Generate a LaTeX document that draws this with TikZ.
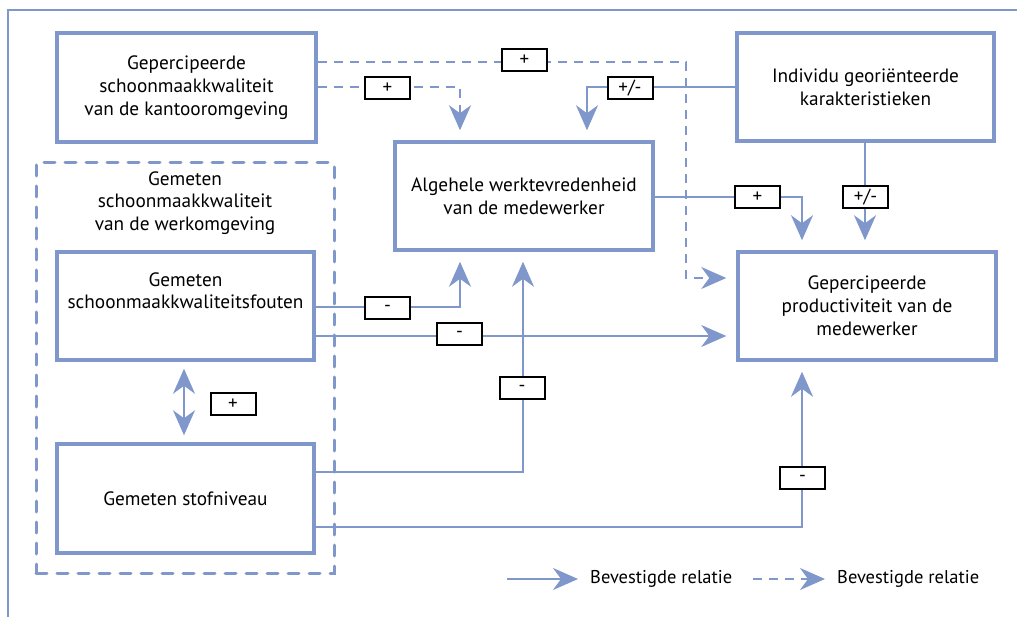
\documentclass[tikz,border=0pt]{standalone}
\usepackage{fontspec}
\setmainfont{PT Sans}
\usetikzlibrary{arrows.meta}
\definecolor{lb}{RGB}{127,151,202}
\tikzset{
  box/.style={draw=lb, line width=3.5pt, fill=white, align=center, inner sep=0pt, font=\fontsize{19.3}{22.8}\selectfont},
  conn/.style={draw=lb, line width=2pt, -{Stealth[length=25pt, width=22pt, inset=8pt]}, shorten >=10pt},
  dconn/.style={conn, dash pattern=on 9pt off 7pt},
  lbl/.style={draw=black, line width=2pt, fill=white, minimum width=45pt, minimum height=22pt, inner sep=0pt, font=\fontsize{19}{20}\selectfont},
  txt/.style={align=center, inner sep=0pt, font=\fontsize{19.3}{22.8}\selectfont},
}
\begin{document}
\begin{tikzpicture}[x=1pt, y=-1pt]
\useasboundingbox (0,0) rectangle (1017,617);
% outer frame
\draw[lb, line width=2pt] (8,617) -- (8,10) -- (1017,10);
% group
\node[draw=lb, line width=3pt, dash pattern=on 11pt off 10pt, line cap=round, minimum width=298pt, minimum height=410pt, inner sep=0pt] (G) at (185,368) {};
\node[txt] (Gt) at (185,203) {Gemeten\\schoonmaakkwaliteit\\van de werkomgeving};
% boxes
\node[box, minimum width=259pt, minimum height=109pt] (A) at (186.5,87.5) {Gepercipeerde\\schoonmaakkwaliteit\\van de kantooromgeving};
\node[box, minimum width=258pt, minimum height=108pt] (B) at (524,196) {Algehele werktevredenheid\\van de medewerker};
\node[box, minimum width=257pt, minimum height=108pt] (C) at (865.5,87) {Individu georiënteerde\\karakteristieken};
\node[box, minimum width=258pt, minimum height=108pt] (D) at (867,306) {Gepercipeerde\\productiviteit van de\\medewerker};
\node[box, minimum width=257pt, minimum height=108pt] (E) at (185.5,306) {Gemeten\\schoonmaakkwaliteitsfouten\\[8pt]};
\node[box, minimum width=257pt, minimum height=109pt] (F) at (185.5,498.5) {Gemeten stofniveau};
% connectors
\draw[dconn] (A.east |- 0,62) -| (686,278) -- (D.west |- 0,278);
\draw[dconn] (A.east |- 0,87) -| (B.north -| 460,0);
\draw[conn] (C.west |- 0,87) -| (B.north -| 587,0);
\draw[conn] (B.east |- 0,197) -| (D.north -| 802,0);
\draw[conn] (C.south -| 865,0) -- (D.north -| 865,0);
\draw[conn] (E.east |- 0,307) -| (B.south -| 460,0);
\draw[conn] (E.east |- 0,336) -- (D.west |- 0,336);
\draw[conn] (F.east |- 0,472) -| (B.south -| 523,0);
\draw[conn] (F.east |- 0,527) -| (D.south -| 802,0);
\draw[conn, {Stealth[length=25pt, width=22pt, inset=8pt]}-{Stealth[length=25pt, width=22pt, inset=8pt]}, shorten <=7pt, shorten >=7pt] (E.south -| 184,0) -- (F.north -| 184,0);
% labels
\node[lbl] (l1) at (524.5,60) {+};
\node[lbl] (l2) at (387.5,88) {+};
\node[lbl] (l3) at (630,88) {+/-};
\node[lbl] (l4) at (757.5,197.5) {+};
\node[lbl] (l5) at (865.5,197.5) {+/-};
\node[lbl] (l6) at (387.5,308) {-};
\node[lbl] (l7) at (459.5,334) {-};
\node[lbl] (l8) at (522,388) {-};
\node[lbl] (l9) at (802.5,478) {-};
\node[lbl] (l10) at (233,404) {+};
% legend
\coordinate (s1) at (507,579);
\node[txt, anchor=west, font=\fontsize{18.5}{22}\selectfont] (t1) at (590,579) {Bevestigde relatie};
\draw[conn, shorten >=12pt] (s1) -- (t1.west);
\coordinate (s2) at (753,579);
\node[txt, anchor=west, font=\fontsize{18.5}{22}\selectfont] (t2) at (837,579) {Bevestigde relatie};
\draw[dconn, shorten >=12pt] (s2) -- (t2.west);
\end{tikzpicture}
\end{document}
